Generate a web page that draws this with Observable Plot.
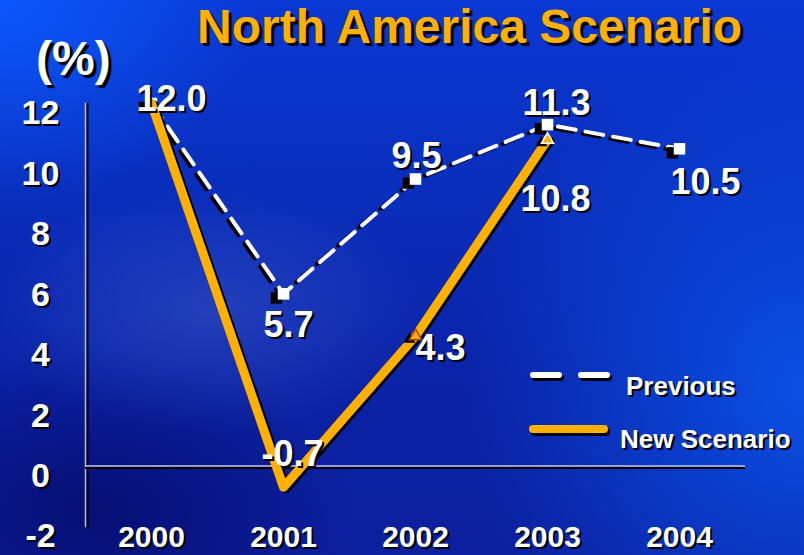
<!DOCTYPE html>
<html>
<head>
<meta charset="utf-8">
<script src="https://cdn.jsdelivr.net/npm/d3@7"></script>
<script src="https://cdn.jsdelivr.net/npm/@observablehq/plot@0.6"></script>
<style>
  html, body { margin: 0; padding: 0; }
  body { width: 804px; height: 555px; overflow: hidden; font-family: "Liberation Sans", Arial, sans-serif; }
  #stage {
    position: relative; width: 804px; height: 555px; overflow: hidden;
    background:
      radial-gradient(ellipse 260px 200px at 0% 0%, rgba(12,90,255,0.95), rgba(12,90,255,0) 100%),
      radial-gradient(ellipse 340px 340px at 100% 70%, rgba(10,84,235,0.9), rgba(10,84,235,0) 100%),
      radial-gradient(ellipse 220px 120px at 26% 56%, rgba(80,110,210,0.35), rgba(80,110,210,0) 100%),
      radial-gradient(ellipse 260px 160px at 12% 92%, rgba(5,8,100,0.75), rgba(5,8,100,0) 100%),
      linear-gradient(180deg, #0a38d4 0%, #0a2ebc 35%, #0b22a6 70%, #0c1f9e 100%);
  }
  #stage svg { position: absolute; left: 0; top: 0; }
  .title {
    position: absolute; left: 197px; top: 3px; margin: 0;
    font-size: 48px; font-weight: bold; line-height: 48px; color: #ffb000;
    text-shadow: 3px 3px 1px #000; white-space: nowrap;
  }
  .unit {
    position: absolute; left: 36px; top: 35px;
    font-size: 48px; font-weight: bold; line-height: 48px; color: #fff;
    text-shadow: 3px 3px 1px #000;
  }
</style>
</head>
<body>
<div id="stage">
  <div class="title">North America Scenario</div>
  <div class="unit">(%)</div>
</div>
<script>
// Growth rates (%) by year
const years = ["2000", "2001", "2002", "2003", "2004"];
const previous = [12.0, 5.7, 9.5, 11.3, 10.5];
const newScenario = [12.0, -0.7, 4.3, 10.8];
const yTicks = [-2, 0, 2, 4, 6, 8, 10, 12];

// Label nudges (px) beside each point; null = no label
const previousNudge = [[20, -4], [5, 32], [1, -23], [9, -21], [26, 34]];
const newNudge = [null, [9, -33], [25, 12], [8, 60]];

const prevData = years.map((year, i) => ({year, value: previous[i]}));
const newData = newScenario.map((value, i) => ({year: years[i], value}));

const fmt = v => v.toFixed(1);
const orange = "#ffb000";

function valueLabels(data, nudges) {
  const marks = [];
  data.forEach((d, i) => {
    const n = nudges[i];
    if (!n) return;
    marks.push(Plot.text([d], {x: "year", y: "value", text: d => fmt(d.value),
      dx: n[0] + 2, dy: n[1] + 2, fill: "#000", fontSize: 36, fontWeight: "bold"}));
    marks.push(Plot.text([d], {x: "year", y: "value", text: d => fmt(d.value),
      dx: n[0], dy: n[1], fill: "#fff", fontSize: 36, fontWeight: "bold"}));
  });
  return marks;
}

const chart = Plot.plot({
  width: 804,
  height: 555,
  marginLeft: 85,
  marginRight: 59,
  marginTop: 103,
  marginBottom: 29,
  style: {background: "transparent", fontFamily: "Liberation Sans, Arial, sans-serif", fontWeight: "bold", overflow: "visible"},
  x: {type: "band", domain: years, padding: 0},
  y: {domain: [-2, 12]},
  marks: [
    // axis lines with their shadows
    Plot.frame({anchor: "left", stroke: "#000", strokeWidth: 2, dx: 2}),
    Plot.frame({anchor: "left", stroke: "#b4b8d8", strokeWidth: 1.5}),
    Plot.ruleY([0], {stroke: "#000", strokeWidth: 2, dy: 2}),
    Plot.ruleY([0], {stroke: "#c4c8e4", strokeWidth: 1.5}),

    // y tick labels
    Plot.axisY({ticks: yTicks, tickSize: 0, tickPadding: 45, textAnchor: "middle", tickFormat: d => String(d),
      fontSize: 34, fill: "#000", dx: 2, dy: 12, label: null}),
    Plot.axisY({ticks: yTicks, tickSize: 0, tickPadding: 45, textAnchor: "middle", tickFormat: d => String(d),
      fontSize: 34, fill: "#fff", dy: 10, label: null}),

    // x tick labels
    Plot.axisX({tickSize: 0, tickPadding: 0, lineAnchor: "middle", fontSize: 30, fill: "#000", dx: 2, dy: 13, label: null}),
    Plot.axisX({tickSize: 0, tickPadding: 0, lineAnchor: "middle", fontSize: 30, fill: "#fff", dy: 11, label: null}),

    // Previous: dashed white line with dark shadow
    Plot.line(prevData, {x: "year", y: "value", stroke: "#000", strokeWidth: 4, strokeDasharray: "18,10", dx: -3, dy: 2}),
    Plot.line(prevData, {x: "year", y: "value", stroke: "#fff", strokeWidth: 4, strokeDasharray: "18,10"}),
    Plot.dot(prevData, {x: "year", y: "value", symbol: "square", r: 6.5, fill: "#000", dx: -7, dy: 4}),
    Plot.dot(prevData, {x: "year", y: "value", symbol: "square", r: 6.5, fill: "#fff"}),

    // New scenario: thick orange line with dark shadow
    Plot.line(newData, {x: "year", y: "value", stroke: "#000", strokeWidth: 9, dx: 2.5, dy: 1.5, strokeLinejoin: "round", strokeLinecap: "round"}),
    Plot.line(newData, {x: "year", y: "value", stroke: orange, strokeWidth: 9, strokeLinejoin: "round", strokeLinecap: "round"}),
    Plot.dot(newData.slice(2), {x: "year", y: "value", symbol: "triangle", r: 4.5, fill: "#000", dx: -6, dy: 3}),
    Plot.dot(newData.slice(2), {x: "year", y: "value", symbol: "triangle", r: 4.5, fill: orange,
      stroke: (d, i) => i === 0 ? "#b0400a" : "#fff", strokeWidth: 1.5}),

    // value labels
    ...valueLabels(prevData, previousNudge),
    ...valueLabels(newData, newNudge)
  ]
});
document.getElementById("stage").appendChild(chart);

// legend
const ns = "http://www.w3.org/2000/svg";
const legend = document.createElementNS(ns, "svg");
legend.setAttribute("width", 804);
legend.setAttribute("height", 555);
legend.innerHTML = `
  <g stroke-linecap="round">
    <g transform="translate(2,3)" stroke="#000" stroke-width="6">
      <line x1="533" y1="375" x2="559" y2="375"/>
      <line x1="581" y1="375" x2="607" y2="375"/>
      <line x1="533" y1="429" x2="604" y2="429" stroke-width="8"/>
    </g>
    <g stroke="#fff" stroke-width="6">
      <line x1="533" y1="375" x2="559" y2="375"/>
      <line x1="581" y1="375" x2="607" y2="375"/>
    </g>
    <line x1="533" y1="429" x2="604" y2="429" stroke="${orange}" stroke-width="8"/>
  </g>
  <g font-family="Liberation Sans, Arial, sans-serif" font-weight="bold" font-size="26">
    <text x="628" y="397" fill="#000">Previous</text>
    <text x="626" y="395" fill="#fff">Previous</text>
    <text x="622" y="450" fill="#000">New Scenario</text>
    <text x="620" y="448" fill="#fff">New Scenario</text>
  </g>`;
document.getElementById("stage").appendChild(legend);
</script>
</body>
</html>
